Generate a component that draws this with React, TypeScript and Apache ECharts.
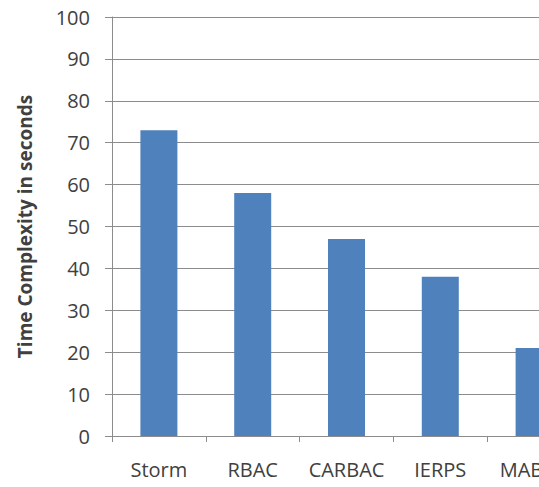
import React, { useEffect, useRef } from "react";
import * as echarts from "echarts";

const categories = ["Storm", "RBAC", "CARBAC", "IERPS", "MABAC"];
const timeSeconds = [73, 58, 47, 38, 21];
const yMin = 0;
const yMax = 100;
const yStep = 10;

const FONT = "'Open Sans', 'Noto Sans', sans-serif";
const TEXT = "#404040";
const LINE = "#8c8c8c";

export default function App() {
  const ref = useRef<HTMLDivElement>(null);

  useEffect(() => {
    if (!ref.current) return;
    const chart = echarts.init(ref.current, null, { renderer: "svg" });
    chart.setOption({
      animation: false,
      backgroundColor: "#ffffff",
      // the plot runs past the right edge of the visible frame
      grid: { left: 112, top: 17, width: 469, height: 419, containLabel: false },
      xAxis: {
        type: "category",
        data: categories,
        boundaryGap: true,
        axisLine: { show: true, lineStyle: { color: LINE, width: 1 } },
        axisTick: { show: true, length: 6, alignWithLabel: false, lineStyle: { color: LINE } },
        axisLabel: { color: TEXT, fontFamily: FONT, fontSize: 20, margin: 23, interval: 0 },
        splitLine: { show: false },
      },
      yAxis: {
        type: "value",
        min: yMin,
        max: yMax,
        interval: yStep,
        name: "Time Complexity in seconds",
        nameLocation: "middle",
        nameRotate: 90,
        nameGap: 78,
        nameTextStyle: { color: TEXT, fontFamily: FONT, fontSize: 19, fontWeight: "bold" },
        axisLine: { show: true, lineStyle: { color: LINE, width: 1 } },
        axisTick: { show: true, length: 7, lineStyle: { color: LINE } },
        axisLabel: { color: TEXT, fontFamily: FONT, fontSize: 20, margin: 22 },
        splitLine: { show: true, lineStyle: { color: LINE, width: 1 } },
      },
      series: [
        {
          type: "bar",
          data: timeSeconds,
          barWidth: 37,
          itemStyle: { color: "#4f81bd" },
        },
      ],
    });
    return () => chart.dispose();
  }, []);

  return (
    <div
      style={{
        position: "fixed",
        left: 0,
        top: 0,
        width: 539,
        height: 487,
        overflow: "hidden",
        background: "#ffffff",
      }}
    >
      <div ref={ref} style={{ width: 620, height: 487 }} />
    </div>
  );
}
